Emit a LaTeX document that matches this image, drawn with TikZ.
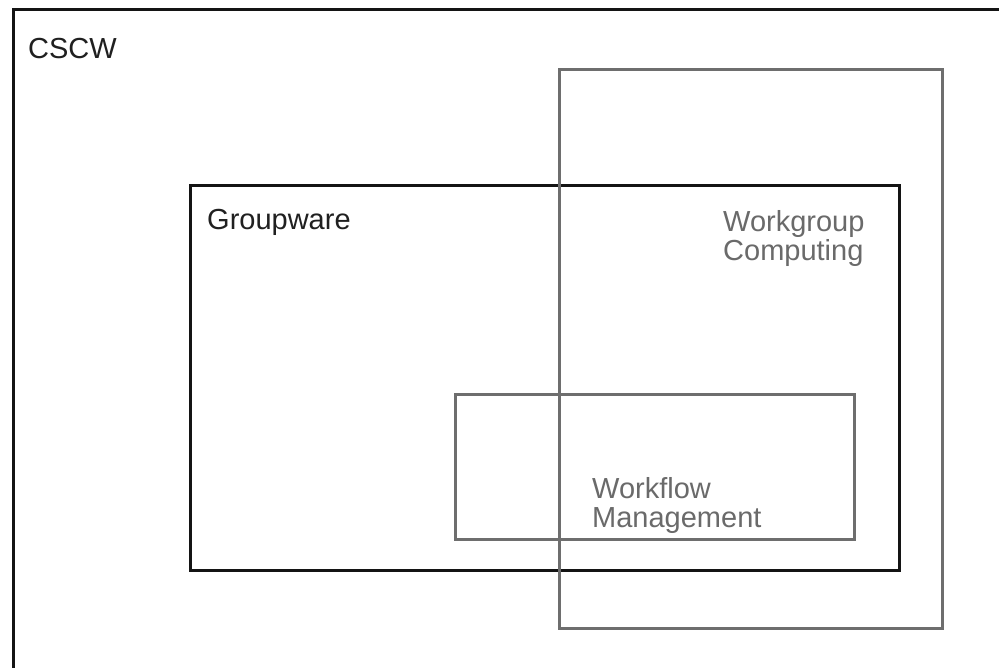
\documentclass[tikz,border=0pt]{standalone}
\usepackage{fontspec}
\setmainfont{Liberation Sans}
\definecolor{darkline}{HTML}{141414}
\definecolor{grayline}{HTML}{6E6E6E}
\definecolor{graytext}{HTML}{6A6A6A}
\definecolor{darktext}{HTML}{202020}
\begin{document}
\begin{tikzpicture}[x=1pt,y=-1pt,
  blackbox/.style={draw=darkline,line width=3pt},
  graybox/.style={draw=grayline,line width=3pt},
  lbl/.style={anchor=base west,inner sep=0pt,font=\fontsize{29}{28.5}\selectfont,align=left}]
\useasboundingbox (0,0) rectangle (999,667);
\clip (0,0) rectangle (999,667);
\fill[white] (0,0) rectangle (999,667);
% CSCW outer frame (cut off at right and bottom)
\draw[blackbox] (13.5,9) rectangle (1010,680);
% Groupware
\draw[blackbox] (190.5,185.5) rectangle (899.5,570);
% Workgroup Computing
\draw[graybox] (559.5,69.5) rectangle (942.5,628);
% Workflow Management
\draw[graybox] (455.5,394) rectangle (854.5,539);
% labels
\node[lbl,text=darktext] (cscw) at (28,58) {CSCW};
\node[lbl,text=darktext] (groupware) at (207,229) {Groupware};
\node[lbl,text=graytext] (workgroup) at (723,260) {Workgroup\\Computing};
\node[lbl,text=graytext] (workflow) at (592,527) {Workflow\\Management};
\end{tikzpicture}
\end{document}
